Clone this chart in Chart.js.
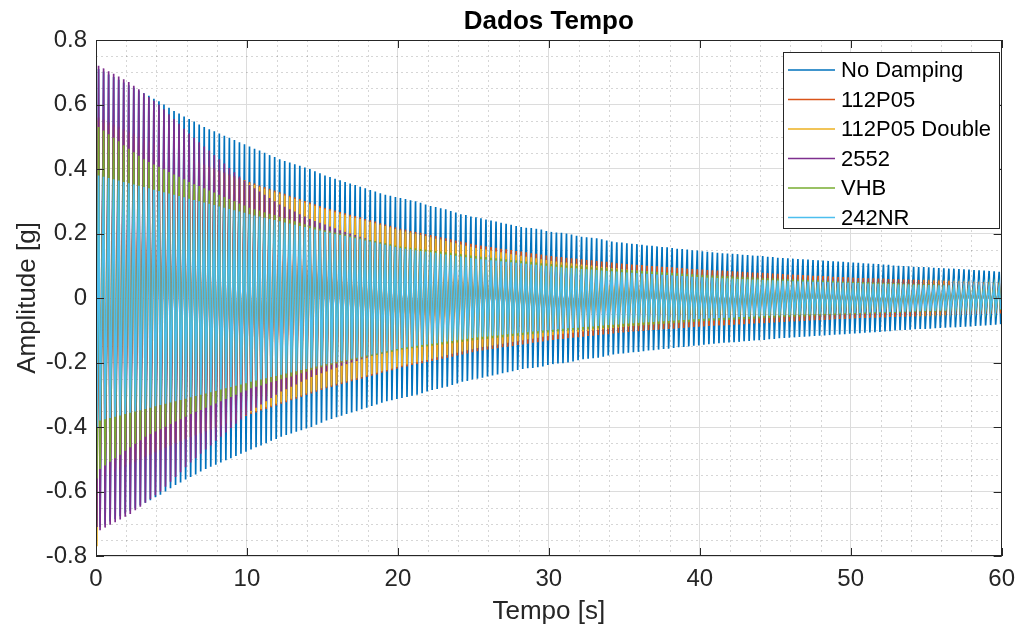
<!DOCTYPE html>
<html>
<head>
<meta charset="utf-8">
<script src="https://cdn.jsdelivr.net/npm/chart.js@4.4.1/dist/chart.umd.min.js"></script>
<style>
  html, body { margin: 0; padding: 0; background: #ffffff; }
  #wrap { width: 1024px; height: 637px; }
</style>
</head>
<body>
<div id="wrap"><canvas id="c" width="1024" height="637"></canvas></div>
<script>
// Free-decay response of a test beam with different damping treatments.
// Each array holds the peak amplitude [g] of successive oscillation cycles
// (three cycles per second of record); the first trough of each run is kept apart.
const seriesNames = ['No Damping', '112P05', '112P05 Double', '2552', 'VHB', '242NR'];
const seriesColors = ['#0072BD', '#D95319', '#EDB120', '#7E2F8E', '#77AC30', '#4DBEEE'];
const cyclesPerSecond = 3;
const timeTicks = [0, 10, 20, 30, 40, 50, 60];
const amplitudeTicks = [-0.8, -0.6, -0.4, -0.2, 0, 0.2, 0.4, 0.6, 0.8];
const openingTrough = [-0.69, -0.62, -0.77, -0.71, -0.56, -0.40];

const noDamping = [
  0.710,0.702,0.693,0.685,0.677,0.668,0.660,0.652,0.643,0.635,0.627,0.618,0.610,0.600,0.590,
  0.580,0.572,0.563,0.555,0.547,0.538,0.530,0.523,0.517,0.510,0.503,0.497,0.490,0.483,0.477,
  0.470,0.463,0.457,0.450,0.443,0.437,0.430,0.425,0.420,0.415,0.410,0.405,0.400,0.393,0.387,
  0.380,0.375,0.370,0.365,0.360,0.355,0.350,0.345,0.340,0.335,0.330,0.325,0.320,0.317,0.313,
  0.310,0.307,0.303,0.300,0.295,0.290,0.285,0.282,0.278,0.275,0.270,0.265,0.260,0.257,0.253,
  0.250,0.247,0.243,0.240,0.237,0.233,0.230,0.227,0.223,0.220,0.218,0.217,0.215,0.212,0.208,
  0.205,0.203,0.202,0.200,0.197,0.193,0.190,0.188,0.187,0.185,0.182,0.178,0.175,0.173,0.172,
  0.170,0.168,0.167,0.165,0.163,0.162,0.160,0.158,0.157,0.155,0.153,0.152,0.150,0.148,0.147,
  0.145,0.143,0.142,0.140,0.139,0.138,0.137,0.136,0.134,0.133,0.132,0.131,0.130,0.128,0.127,
  0.125,0.124,0.123,0.122,0.121,0.120,0.119,0.118,0.117,0.116,0.115,0.114,0.113,0.112,0.111,
  0.110,0.109,0.108,0.107,0.106,0.105,0.104,0.103,0.101,0.100,0.099,0.098,0.097,0.096,0.096,
  0.095,0.094,0.093,0.092,0.091,0.091,0.090,0.089,0.088,0.087,0.086,0.085,0.084,0.083,0.081
];

const p112P05 = [
  0.560,0.553,0.545,0.538,0.531,0.523,0.516,0.509,0.501,0.494,0.487,0.479,0.472,0.465,0.457,
  0.450,0.444,0.438,0.432,0.426,0.420,0.414,0.408,0.402,0.396,0.390,0.384,0.378,0.372,0.366,
  0.360,0.355,0.349,0.344,0.339,0.333,0.328,0.323,0.317,0.312,0.307,0.301,0.296,0.291,0.285,
  0.280,0.276,0.271,0.267,0.263,0.258,0.254,0.250,0.245,0.241,0.237,0.232,0.228,0.224,0.219,
  0.215,0.212,0.208,0.205,0.202,0.198,0.195,0.192,0.188,0.185,0.182,0.178,0.175,0.172,0.168,
  0.165,0.163,0.160,0.158,0.156,0.153,0.151,0.149,0.146,0.144,0.142,0.139,0.137,0.135,0.132,
  0.130,0.128,0.127,0.125,0.123,0.122,0.120,0.118,0.117,0.115,0.113,0.112,0.110,0.108,0.107,
  0.105,0.104,0.103,0.102,0.100,0.099,0.098,0.097,0.096,0.095,0.094,0.093,0.091,0.090,0.089,
  0.088,0.087,0.086,0.085,0.085,0.084,0.083,0.082,0.081,0.080,0.079,0.078,0.078,0.077,0.076,
  0.075,0.074,0.073,0.073,0.072,0.071,0.070,0.069,0.069,0.068,0.067,0.066,0.065,0.065,0.064,
  0.063,0.062,0.062,0.061,0.061,0.060,0.060,0.059,0.059,0.058,0.058,0.057,0.057,0.056,0.056,
  0.055,0.054,0.054,0.053,0.053,0.052,0.052,0.051,0.051,0.050,0.050,0.049,0.049,0.048,0.048
];

const p112P05Double = [
  0.550,0.543,0.537,0.530,0.523,0.517,0.510,0.503,0.497,0.490,0.483,0.477,0.470,0.463,0.457,
  0.450,0.444,0.437,0.431,0.425,0.418,0.412,0.406,0.399,0.393,0.387,0.380,0.374,0.368,0.361,
  0.355,0.350,0.344,0.339,0.334,0.328,0.323,0.318,0.312,0.307,0.302,0.296,0.291,0.286,0.280,
  0.275,0.271,0.266,0.262,0.258,0.253,0.249,0.245,0.240,0.236,0.232,0.227,0.223,0.219,0.214,
  0.210,0.206,0.203,0.199,0.195,0.192,0.188,0.184,0.181,0.177,0.173,0.170,0.166,0.162,0.159,
  0.155,0.152,0.150,0.147,0.144,0.142,0.139,0.136,0.134,0.131,0.128,0.126,0.123,0.120,0.118,
  0.115,0.113,0.111,0.110,0.108,0.106,0.104,0.102,0.101,0.099,0.097,0.095,0.093,0.092,0.090,
  0.088,0.087,0.085,0.084,0.083,0.081,0.080,0.079,0.077,0.076,0.075,0.073,0.072,0.071,0.069,
  0.068,0.067,0.066,0.065,0.065,0.064,0.063,0.062,0.061,0.060,0.059,0.058,0.058,0.057,0.056,
  0.055,0.054,0.054,0.053,0.052,0.052,0.051,0.050,0.050,0.049,0.048,0.048,0.047,0.046,0.046,
  0.045,0.045,0.044,0.044,0.043,0.043,0.042,0.042,0.041,0.041,0.040,0.040,0.039,0.039,0.038,
  0.038,0.038,0.037,0.037,0.036,0.036,0.036,0.035,0.035,0.034,0.034,0.034,0.033,0.033,0.032
];

const s2552 = [
  0.720,0.712,0.703,0.695,0.687,0.678,0.670,0.658,0.647,0.635,0.623,0.612,
  0.600,0.585,0.570,0.555,0.540,0.525,0.510,0.497,0.483,0.470,0.457,0.443,
  0.430,0.417,0.403,0.390,0.377,0.363,0.350,0.340,0.330,0.320,0.310,0.300,
  0.290,0.283,0.275,0.268,0.260,0.253,0.245,0.239,0.233,0.228,0.222,0.216,
  0.210,0.205,0.200,0.195,0.190,0.185,0.180,0.176,0.172,0.168,0.163,0.159,
  0.155,0.152,0.149,0.146,0.143,0.140,0.137,0.134,0.131,0.128,0.125,0.122,0.119,0.116,0.113,
  0.110,0.108,0.106,0.104,0.102,0.100,0.098,0.096,0.094,0.092,0.090,0.088,0.086,0.084,0.082,
  0.080,0.079,0.078,0.076,0.075,0.074,0.073,0.072,0.070,0.069,0.068,0.067,0.066,0.064,0.063,
  0.062,0.061,0.060,0.060,0.059,0.058,0.057,0.056,0.056,0.055,0.054,0.053,0.052,0.052,0.051,
  0.050,0.049,0.049,0.048,0.048,0.047,0.047,0.046,0.046,0.045,0.045,0.044,0.044,0.043,0.043,
  0.042,0.042,0.041,0.041,0.040,0.040,0.040,0.039,0.039,0.038,0.038,0.038,0.037,0.037,0.036,
  0.036,0.036,0.035,0.035,0.035,0.034,0.034,0.034,0.033,0.033,0.033,0.032,0.032,0.032,0.031,
  0.031,0.031,0.030,0.030,0.030,0.030,0.029,0.029,0.029,0.029,0.028,0.028,0.028,0.028,0.027
];

const vhb = [
  0.530,0.519,0.508,0.497,0.486,0.474,0.463,0.452,0.441,
  0.430,0.422,0.414,0.407,0.399,0.391,0.383,0.376,0.368,
  0.360,0.353,0.347,0.340,0.333,0.327,0.320,0.313,0.307,0.300,0.293,0.287,
  0.280,0.275,0.271,0.266,0.261,0.257,0.252,0.247,0.243,0.238,0.233,0.229,0.224,0.219,0.215,
  0.210,0.207,0.203,0.200,0.197,0.193,0.190,0.187,0.183,0.180,0.177,0.173,0.170,0.167,0.163,
  0.160,0.158,0.156,0.154,0.152,0.150,0.148,0.146,0.144,0.142,0.140,0.138,0.136,0.134,0.132,
  0.130,0.128,0.127,0.125,0.123,0.122,0.120,0.118,0.117,0.115,0.113,0.112,0.110,0.108,0.107,
  0.105,0.104,0.103,0.101,0.100,0.099,0.098,0.097,0.095,0.094,0.093,0.092,0.091,0.089,0.088,
  0.087,0.086,0.085,0.084,0.083,0.082,0.081,0.080,0.079,0.078,0.077,0.076,0.075,0.074,0.073,
  0.072,0.071,0.070,0.070,0.069,0.068,0.067,0.066,0.066,0.065,0.064,0.063,0.062,0.062,0.061,
  0.060,0.059,0.059,0.058,0.057,0.057,0.056,0.055,0.055,0.054,0.053,0.053,0.052,0.051,0.051,
  0.050,0.050,0.049,0.049,0.048,0.048,0.047,0.047,0.046,0.046,0.045,0.045,0.044,0.044,0.043,
  0.043,0.043,0.042,0.042,0.041,0.041,0.041,0.040,0.040,0.039,0.039,0.039,0.038,0.038,0.037
];

const nr242 = [
  0.380,0.376,0.372,0.368,0.364,0.360,0.356,0.352,0.348,0.344,0.340,0.336,0.332,0.328,0.324,
  0.320,0.316,0.312,0.308,0.304,0.300,0.296,0.292,0.288,0.284,0.280,0.276,0.272,0.268,0.264,
  0.260,0.256,0.253,0.249,0.245,0.242,0.238,0.234,0.231,0.227,0.223,0.220,0.216,0.212,0.209,
  0.205,0.202,0.198,0.195,0.192,0.188,0.185,0.182,0.178,0.175,0.172,0.168,0.165,0.162,0.158,
  0.155,0.153,0.151,0.148,0.146,0.144,0.142,0.140,0.137,0.135,0.133,0.131,0.129,0.126,0.124,
  0.122,0.120,0.119,0.117,0.116,0.114,0.112,0.111,0.109,0.108,0.106,0.104,0.103,0.101,0.100,
  0.098,0.097,0.095,0.094,0.093,0.092,0.090,0.089,0.088,0.087,0.085,0.084,0.083,0.082,0.080,
  0.079,0.078,0.077,0.076,0.075,0.074,0.073,0.072,0.071,0.070,0.069,0.068,0.067,0.066,0.065,
  0.064,0.063,0.063,0.062,0.061,0.061,0.060,0.059,0.059,0.058,0.057,0.057,0.056,0.055,0.055,
  0.054,0.053,0.053,0.052,0.052,0.051,0.051,0.050,0.050,0.049,0.049,0.048,0.048,0.047,0.047,
  0.046,0.046,0.045,0.045,0.044,0.044,0.044,0.043,0.043,0.042,0.042,0.042,0.041,0.041,0.040,
  0.040,0.040,0.039,0.039,0.039,0.038,0.038,0.038,0.037,0.037,0.037,0.036,0.036,0.036,0.035
];

const seriesPeaks = [noDamping, p112P05, p112P05Double, s2552, vhb, nr242];

// Each cycle: crest then trough, both within the cycle's time slot.
function cycleTrace(peaks, firstTrough) {
  const pts = [{ x: 0, y: 0 }, { x: 0.06, y: firstTrough }];
  peaks.forEach((a, k) => {
    const t = k / cyclesPerSecond;
    pts.push({ x: t + 0.17, y: a }, { x: t + 0.27, y: -a });
  });
  return pts;
}

const FONT = "'Liberation Sans', Arial, Helvetica, sans-serif";
const AXIS_COLOR = '#262626';

const datasets = seriesNames.map((name, i) => ({
  label: name,
  data: cycleTrace(seriesPeaks[i], openingTrough[i]),
  borderColor: seriesColors[i],
  backgroundColor: seriesColors[i],
  borderWidth: 1.7,
  pointRadius: 0,
  tension: 0,
  fill: false,
  order: seriesNames.length - i   // later series are painted over earlier ones
}));

// Minor grid, box, inward ticks, legend and title in the MATLAB figure style.
const figureDecor = {
  id: 'figureDecor',
  beforeDatasetsDraw(chart) {
    const { ctx, chartArea: a, scales: { x, y } } = chart;
    ctx.save();
    ctx.strokeStyle = 'rgba(0,0,0,0.16)';
    ctx.lineWidth = 1;
    ctx.setLineDash([2, 3]);
    ctx.beginPath();
    for (let t = 2; t < 60; t += 2) {
      if (t % 10 === 0) continue;
      const px = Math.round(x.getPixelForValue(t)) + 0.5;
      ctx.moveTo(px, a.top); ctx.lineTo(px, a.bottom);
    }
    for (let i = -15; i <= 15; i++) {
      if (i % 4 === 0) continue;
      const py = Math.round(y.getPixelForValue(i * 0.05)) + 0.5;
      ctx.moveTo(a.left, py); ctx.lineTo(a.right, py);
    }
    ctx.stroke();
    ctx.restore();
  },
  afterDatasetsDraw(chart) {
    const { ctx, chartArea: a, scales: { x, y } } = chart;
    ctx.save();
    // axes box
    ctx.strokeStyle = AXIS_COLOR;
    ctx.lineWidth = 1;
    ctx.strokeRect(Math.round(a.left) + 0.5, Math.round(a.top) + 0.5,
                   Math.round(a.right - a.left) - 1, Math.round(a.bottom - a.top) - 1);
    // inward tick marks on all four sides
    const tl = 8;
    ctx.beginPath();
    timeTicks.forEach(t => {
      const px = Math.round(x.getPixelForValue(t)) + 0.5;
      ctx.moveTo(px, a.bottom); ctx.lineTo(px, a.bottom - tl);
      ctx.moveTo(px, a.top); ctx.lineTo(px, a.top + tl);
    });
    amplitudeTicks.forEach(v => {
      const py = Math.round(y.getPixelForValue(v)) + 0.5;
      ctx.moveTo(a.left, py); ctx.lineTo(a.left + tl, py);
      ctx.moveTo(a.right, py); ctx.lineTo(a.right - tl, py);
    });
    ctx.stroke();

    // legend box (north-east)
    const bx = 783.5, by = 52.5, bw = 216, bh = 176;
    ctx.fillStyle = '#ffffff';
    ctx.fillRect(bx, by, bw, bh);
    ctx.strokeStyle = AXIS_COLOR;
    ctx.strokeRect(bx, by, bw, bh);
    ctx.font = '22px ' + FONT;
    ctx.textBaseline = 'middle';
    ctx.textAlign = 'left';
    seriesNames.forEach((name, i) => {
      const ry = 70 + i * 29.5;
      ctx.strokeStyle = seriesColors[i];
      ctx.lineWidth = 1.5;
      ctx.beginPath();
      ctx.moveTo(788, ry); ctx.lineTo(835, ry);
      ctx.stroke();
      ctx.fillStyle = '#000000';
      ctx.fillText(name, 841, ry + 1);
    });
    ctx.restore();
  },
  afterDraw(chart) {
    const { ctx, chartArea: a } = chart;
    ctx.save();
    ctx.font = 'bold 26px ' + FONT;
    ctx.fillStyle = '#000000';
    ctx.textAlign = 'center';
    ctx.textBaseline = 'middle';
    ctx.fillText('Dados Tempo', (a.left + a.right) / 2, 22);
    ctx.restore();
  }
};

new Chart(document.getElementById('c'), {
  type: 'line',
  data: { datasets },
  options: {
    responsive: false,
    animation: false,
    parsing: false,
    normalized: true,
    events: [],
    layout: { padding: { top: 40, right: 19, left: 0, bottom: 0 } },
    plugins: {
      legend: { display: false },
      title: { display: false },
      tooltip: { enabled: false }
    },
    scales: {
      x: {
        type: 'linear',
        min: 0,
        max: 60,
        afterFit: s => { s.height = 81; },
        afterBuildTicks: s => { s.ticks = timeTicks.map(v => ({ value: v })); },
        ticks: {
          padding: 9,
          color: AXIS_COLOR,
          font: { family: FONT, size: 24 },
          maxRotation: 0,
          callback: v => String(v)
        },
        grid: { color: '#dcdcdc', lineWidth: 1, drawTicks: false },
        border: { display: false },
        title: {
          display: true,
          text: 'Tempo [s]',
          color: AXIS_COLOR,
          font: { family: FONT, size: 26 },
          padding: { top: 0, bottom: 10 }
        }
      },
      y: {
        type: 'linear',
        min: -0.8,
        max: 0.8,
        afterFit: s => { s.width = 96; },
        afterBuildTicks: s => { s.ticks = amplitudeTicks.map(v => ({ value: v })); },
        ticks: {
          padding: 9,
          color: AXIS_COLOR,
          font: { family: FONT, size: 24 },
          callback: v => String(Math.round(v * 10) / 10)
        },
        grid: { color: '#dcdcdc', lineWidth: 1, drawTicks: false },
        border: { display: false },
        title: {
          display: true,
          text: 'Amplitude [g]',
          color: AXIS_COLOR,
          font: { family: FONT, size: 26 },
          padding: { top: 12, bottom: 0 }
        }
      }
    }
  },
  plugins: [figureDecor]
});
</script>
</body>
</html>
